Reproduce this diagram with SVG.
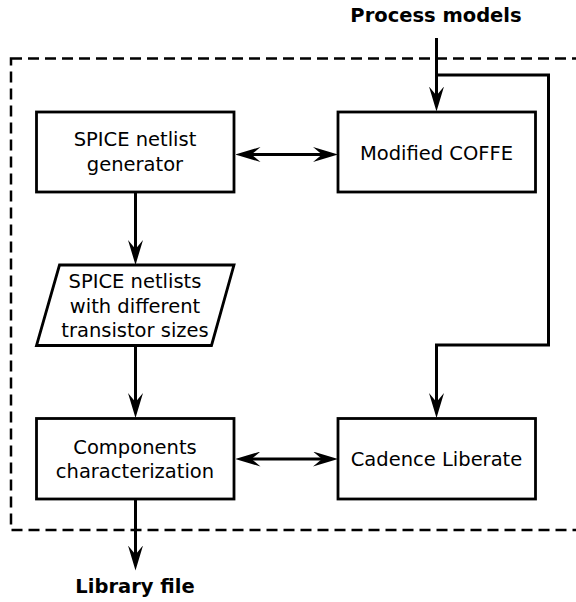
<svg xmlns="http://www.w3.org/2000/svg" width="576" height="602" viewBox="0 0 576 602">
<defs>
<marker id="ah" viewBox="0 0 25 15" refX="17" refY="7.5" markerWidth="25" markerHeight="15" markerUnits="userSpaceOnUse" orient="auto-start-reverse">
<path d="M0,0 L25,7.5 L0,15 L9,7.5 Z" fill="#000"/>
</marker>
<style>
.box{fill:#fff;stroke:#000;stroke-width:2.8}
.t{font-family:"DejaVu Sans",sans-serif;font-size:19.5px;text-anchor:middle;fill:#000}
.b{font-weight:bold}
.c{fill:none;stroke:#000;stroke-width:3}
</style>
</defs>
<rect width="576" height="602" fill="#fff"/>
<rect x="11" y="58.5" width="620" height="471.5" fill="none" stroke="#000" stroke-width="2.5" stroke-dasharray="11,6"/>
<g id="connectors">
<path class="c" d="M436.5,38 V103.5" marker-end="url(#ah)"/>
<path class="c" d="M436.5,75 H548.5 V345 H436.5 V410" marker-end="url(#ah)"/>
<path class="c" d="M243.5,154.5 H330" marker-start="url(#ah)" marker-end="url(#ah)"/>
<path class="c" d="M135.5,192 V257" marker-end="url(#ah)"/>
<path class="c" d="M135.5,345 V410" marker-end="url(#ah)"/>
<path class="c" d="M243.5,459 H330" marker-start="url(#ah)" marker-end="url(#ah)"/>
<path class="c" d="M135.5,499 V562.5" marker-end="url(#ah)"/>
</g>
<g id="process-models"><text class="t b" x="436" y="22">Process models</text></g>
<g id="spice-gen">
<rect class="box" x="36.5" y="112" width="197.5" height="80"/>
<text class="t" x="135" y="145.5">SPICE netlist</text>
<text class="t" x="135" y="170.5">generator</text>
</g>
<g id="coffe">
<rect class="box" x="338" y="112" width="197.5" height="80"/>
<text class="t" x="436.5" y="159.5">Modified COFFE</text>
</g>
<g id="netlists">
<polygon class="box" points="59.5,265 234,265 211.5,345.5 36.5,345.5"/>
<text class="t" x="135" y="287.5">SPICE netlists</text>
<text class="t" x="135" y="312.5">with different</text>
<text class="t" x="135" y="336.5">transistor sizes</text>
</g>
<g id="components">
<rect class="box" x="36.5" y="418.5" width="197.5" height="80.5"/>
<text class="t" x="135" y="454">Components</text>
<text class="t" x="135" y="477.5">characterization</text>
</g>
<g id="liberate">
<rect class="box" x="338" y="418.5" width="197.5" height="80.5"/>
<text class="t" x="436.5" y="466">Cadence Liberate</text>
</g>
<g id="library-file"><text class="t b" x="135" y="593">Library file</text></g>
</svg>
